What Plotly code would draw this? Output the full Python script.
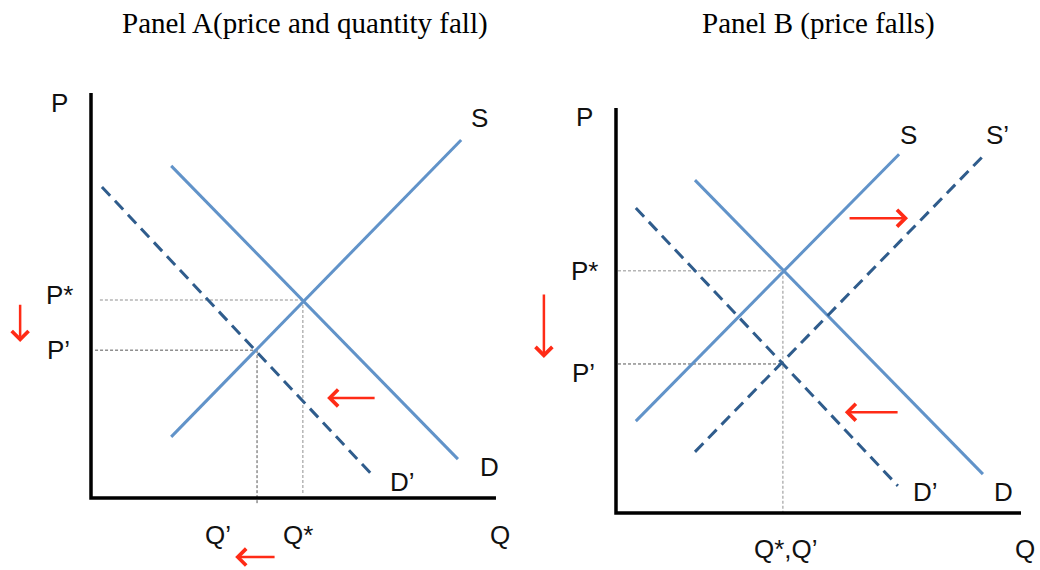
import plotly.graph_objects as go

# Panel A: demand shifts left
a_s_q = [19.8, 91.4]
a_s_p = [15.1, 88.4]
a_d_q = [19.8, 90.6]
a_d_p = [82.0, 9.6]
a_d2_q = [2.7, 69.9]
a_d2_p = [76.8, 5.2]
a_q_star, a_p_star = 52.3, 48.9
a_q_new, a_p_new = 41.0, 36.5

# Panel B: demand shifts left, supply shifts right
b_s_q = [4.9, 69.9]
b_s_p = [22.7, 88.6]
b_s2_q = [19.5, 90.4]
b_s2_p = [15.1, 87.9]
b_d_q = [19.5, 90.6]
b_d_p = [82.2, 9.6]
b_d2_q = [4.9, 69.6]
b_d2_p = [75.3, 6.7]
b_q_star, b_p_star = 41.2, 59.8
b_p_new = 36.8

# text labels (panel, text, q, p)
labels = [
    ("a", "P", -7.7, 97.5), ("a", "S", 96.0, 93.8), ("a", "P*", -7.7, 50.1),
    ("a", "P\u2019", -8.1, 36.5), ("a", "D", 98.5, 7.7), ("a", "D\u2019", 76.8, 4.0),
    ("a", "Q\u2019", 31.4, -9.1), ("a", "Q*", 51.1, -9.1), ("a", "Q", 101.0, -9.1),
    ("b", "P", -7.7, 97.8), ("b", "S", 72.1, 93.3), ("b", "S\u2019", 94.1, 93.3),
    ("b", "P*", -7.7, 59.8), ("b", "P\u2019", -7.9, 34.6), ("b", "D\u2019", 76.3, 5.2),
    ("b", "D", 95.6, 5.2), ("b", "Q*,Q\u2019", 42.0, -8.9), ("b", "Q", 101.0, -8.9),
]

# red shift arrows (panel, head q, head p, tail q, tail p)
arrows = [
    ("a", -17.5, 38.5, -17.5, 48.1),
    ("a", 58.3, 24.7, 70.4, 24.7),
    ("a", 35.6, -14.6, 45.7, -14.6),
    ("b", -17.8, 38.3, -17.8, 54.3),
    ("b", 72.1, 72.8, 57.3, 72.8),
    ("b", 56.5, 24.9, 69.9, 24.9),
]

SOLID = "#6193c9"
DASHED = "#2f5c8c"
LIGHT = "#b5b5b5"
DARK = "#555555"
RED = "#ff2b16"

fig = go.Figure()
ax = {"a": ("x", "y"), "b": ("x2", "y2")}


def line(panel, q, p, color, width, dash="solid"):
    xr, yr = ax[panel]
    fig.add_trace(go.Scatter(x=q, y=p, mode="lines", xaxis=xr, yaxis=yr,
                             line=dict(color=color, width=width, dash=dash),
                             hoverinfo="skip"))


# reference lines
line("a", [2.2, a_q_star], [a_p_star, a_p_star], LIGHT, 1.5, "3px,2px")
line("a", [a_q_star, a_q_star], [a_p_star, 1.0], LIGHT, 1.5, "3px,2px")
line("a", [1.0, a_q_new], [a_p_new, a_p_new], DARK, 1, "3px,2px")
line("a", [a_q_new, a_q_new], [a_p_new, -1.7], DARK, 1, "3px,2px")
line("b", [0.5, b_q_star], [b_p_star, b_p_star], LIGHT, 1.5, "3px,2px")
line("b", [0.5, b_q_star], [b_p_new, b_p_new], DARK, 1, "3px,2px")
line("b", [b_q_star, b_q_star], [b_p_star, 0], LIGHT, 1.5, "3px,2px")

# curves
line("a", a_s_q, a_s_p, SOLID, 3)
line("a", a_d_q, a_d_p, SOLID, 3)
line("a", a_d2_q, a_d2_p, DASHED, 3, "12px,7px")
line("b", b_s_q, b_s_p, SOLID, 3)
line("b", b_d_q, b_d_p, SOLID, 3)
line("b", b_s2_q, b_s2_p, DASHED, 3, "12px,7px")
line("b", b_d2_q, b_d2_p, DASHED, 3, "12px,7px")

# axes
for pn in ("a", "b"):
    line(pn, [0, 0, 100], [100, 0, 0], "black", 3.5)

for pn, txt, q, p in labels:
    xr, yr = ax[pn]
    fig.add_annotation(x=q, y=p, xref=xr, yref=yr, text=txt, showarrow=False,
                       xanchor="center", yanchor="middle",
                       font=dict(family="Liberation Sans", size=26, color="#111"))

for pn, hq, hp, tq, tp in arrows:
    xr, yr = ax[pn]
    fig.add_annotation(x=hq, y=hp, ax=tq, ay=tp, xref=xr, yref=yr, axref=xr, ayref=yr,
                       text="", showarrow=True, arrowhead=4, arrowsize=1.3,
                       arrowwidth=2.5, arrowcolor=RED, standoff=0)

fig.add_annotation(x=305 / 1040, y=1 - 23 / 570, xref="paper", yref="paper", showarrow=False,
                   xanchor="center", yanchor="middle",
                   text="Panel A(price and quantity fall)",
                   font=dict(family="Liberation Serif", size=29, color="black"))
fig.add_annotation(x=818 / 1040, y=1 - 23 / 570, xref="paper", yref="paper", showarrow=False,
                   xanchor="center", yanchor="middle",
                   text="Panel B (price falls)",
                   font=dict(family="Liberation Serif", size=29, color="black"))

fig.update_layout(
    width=1040, height=570,
    margin=dict(l=0, r=0, t=0, b=0),
    paper_bgcolor="white", plot_bgcolor="white",
    showlegend=False,
    xaxis=dict(domain=[0, 0.5], range=[-22.47, 105.93], visible=False),
    yaxis=dict(domain=[0, 1], range=[-17.78, 122.96], visible=False),
    xaxis2=dict(domain=[0.5, 1], range=[-23.70, 104.69], visible=False),
    yaxis2=dict(domain=[0, 1], range=[-14.07, 126.67], visible=False, anchor="x2"),
)

fig.write_html("out.html", config={"displayModeBar": False},
               post_script="document.body.style.margin='0';")
